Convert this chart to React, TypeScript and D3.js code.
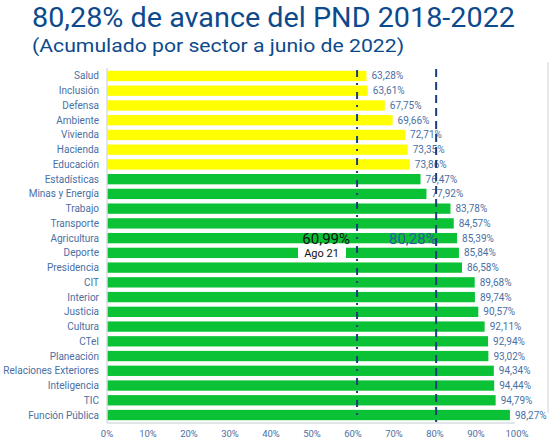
import React from "react";
import * as d3 from "d3";

const categories = [
  "Salud", "Inclusión", "Defensa", "Ambiente", "Vivienda", "Hacienda", "Educación",
  "Estadísticas", "Minas y Energía", "Trabajo", "Transporte", "Agricultura", "Deporte",
  "Presidencia", "CIT", "Interior", "Justicia", "Cultura", "CTeI", "Planeación",
  "Relaciones Exteriores", "Inteligencia", "TIC", "Función Pública",
];
const values = [
  63.28, 63.61, 67.75, 69.66, 72.71, 73.35, 73.86,
  76.47, 77.92, 83.78, 84.57, 85.39, 85.84,
  86.58, 89.68, 89.74, 90.57, 92.11, 92.94, 93.02,
  94.34, 94.44, 94.79, 98.27,
];
const yellowCount = 7;
const ticks = [0, 10, 20, 30, 40, 50, 60, 70, 80, 90, 100];
const refPrev = 60.99;
const refNow = 80.28;
const title = "80,28% de avance del PND 2018-2022";
const subtitle = "(Acumulado por sector a junio de 2022)";

const W = 549;
const H = 445;
const fmt = (v: number) => v.toFixed(2).replace(".", ",") + "%";

export default function App() {
  const x = d3.scaleLinear().domain([0, 100]).range([107, 517]);
  const y = d3
    .scaleBand<string>()
    .domain(categories)
    .range([68.6, 422.4])
    .paddingInner(0.3)
    .paddingOuter(0.15);
  const font = "Roboto, 'Open Sans', sans-serif";
  const labelColor = "#4a6fa3";
  const lineColor = "#1b3f7a";
  const deporteY = y("Deporte")!;
  const agriY = y("Agricultura")!;

  return (
    <svg
      width={W}
      height={H}
      style={{ position: "absolute", left: 0, top: 0, background: "#fff" }}
      fontFamily={font}
    >
      <text x={32} y={27} fontSize={27} fill="#0d4a8c" textLength={483} lengthAdjust="spacingAndGlyphs">
        {title}
      </text>
      <text x={32} y={52} fontSize={19} fill="#0d4a8c" textLength={372} lengthAdjust="spacingAndGlyphs">
        {subtitle}
      </text>

      {/* right border */}
      <line x1={548} x2={548} y1={62} y2={413} stroke="#d6dbe3" strokeWidth={1.2} />

      {/* bars */}
      {categories.map((c, i) => (
        <rect
          key={c}
          x={x(0)}
          y={y(c)!}
          width={x(values[i]) - x(0)}
          height={y.bandwidth()}
          fill={i < yellowCount ? "#ffff00" : "#0bc236"}
        />
      ))}

      {/* axes */}
      <line x1={x(0)} x2={x(0)} y1={68} y2={423} stroke="#d9dce2" strokeWidth={1.5} />
      <line x1={x(0)} x2={515} y1={423} y2={423} stroke="#d9dce2" strokeWidth={1.5} />

      {/* category labels */}
      {categories.map((c) => (
        <text
          key={"l" + c}
          x={99}
          y={y(c)! + y.bandwidth() / 2}
          dy="0.35em"
          textAnchor="end"
          fontSize={10}
          fill={labelColor}
        >
          {c}
        </text>
      ))}

      {/* annotations */}
      <rect x={298} y={deporteY - 0.8} width={48} height={y.bandwidth() + 1.6} fill="#fff" />
      <text x={321.5} y={deporteY + y.bandwidth() / 2} dy="0.36em" textAnchor="middle" fontSize={11} fill="#111">
        Ago 21
      </text>
      <text x={350} y={agriY + y.bandwidth() / 2} dy="0.36em" textAnchor="end" fontSize={15} fill="#111">
        {fmt(refPrev)}
      </text>
      <text x={389} y={agriY + y.bandwidth() / 2} dy="0.36em" fontSize={15} fill="#2d5a9c">
        {fmt(refNow)}
      </text>

      {/* value labels */}
      {categories.map((c, i) => (
        <text
          key={"v" + c}
          x={x(values[i]) + 5}
          y={y(c)! + y.bandwidth() / 2}
          dy="0.35em"
          fontSize={10}
          fill={labelColor}
        >
          {fmt(values[i])}
        </text>
      ))}

      {/* reference lines */}
      <line
        x1={x(refPrev)}
        x2={x(refPrev)}
        y1={70}
        y2={422}
        stroke={lineColor}
        strokeWidth={2}
        strokeDasharray="7,6,2,7"
      />
      <line
        x1={x(refNow)}
        x2={x(refNow)}
        y1={69}
        y2={422}
        stroke={lineColor}
        strokeWidth={2}
        strokeDasharray="8,5"
      />

      {/* x tick labels */}
      {ticks.map((t) => (
        <text key={"t" + t} x={x(t)} y={437} textAnchor="middle" fontSize={9.5} fill={labelColor}>
          {t + "%"}
        </text>
      ))}
    </svg>
  );
}
